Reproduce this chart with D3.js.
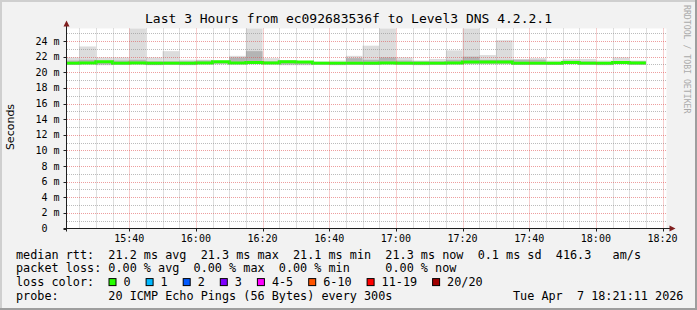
<!DOCTYPE html>
<html>
<head>
<meta charset="utf-8">
<title>Last 3 Hours from ec092683536f to Level3 DNS 4.2.2.1</title>
<script src="https://cdnjs.cloudflare.com/ajax/libs/d3/7.8.5/d3.min.js"></script>
<style>
body{margin:0;padding:0;background:#f2f2f2;overflow:hidden;}
svg{display:block;}
text{font-family:"DejaVu Sans Mono",monospace;fill:#000;}
.legend{font-size:11.8px;white-space:pre;}
.axis-label{font-size:10px;white-space:pre;}
</style>
</head>
<body>
<div id="chart"></div>
<script>
// time window of the graph (last 3 hours)
var startTime = "2026-04-07 15:21:11", endTime = "2026-04-07 18:21:11";
var stepMin = 5;

// one smoke bar per 5 minute step, label = start of step
var barTimes = ["15:20","15:25","15:30","15:35","15:40","15:45","15:50","15:55",
    "16:00","16:05","16:10","16:15","16:20","16:25","16:30","16:35","16:40","16:45",
    "16:50","16:55","17:00","17:05","17:10","17:15","17:20","17:25","17:30","17:35",
    "17:40","17:45","17:50","17:55","18:00","18:05","18:10"];
// median rtt (ms)
var median = [21.15,21.2,21.35,21.15,21.2,21.15,21.15,21.15,21.2,21.35,21.2,21.25,
    21.2,21.35,21.3,21.15,21.15,21.15,21.15,21.2,21.15,21.15,21.15,21.2,21.3,21.3,
    21.3,21.15,21.15,21.15,21.25,21.15,21.15,21.25,21.2];
// outer smoke (min / max ping, ms)
var smokeMax = [21.9,23.3,21.9,21.9,25.7,21.9,22.7,21.6,21.6,21.5,22.1,25.7,
    21.8,21.5,21.4,21.4,21.5,22.1,23.4,25.7,21.9,21.5,21.7,22.8,25.7,22.2,
    24.1,21.7,21.8,21.5,21.7,21.7,21.5,21.9,21.5];
var smokeMin = [20.95,21.0,20.9,21.0,21.0,20.9,21.0,20.9,21.0,21.0,21.0,21.0,
    21.0,20.9,20.9,21.0,20.9,21.0,20.95,21.0,21.0,20.9,21.0,21.0,21.0,21.0,
    21.0,21.0,21.0,20.95,21.0,21.0,20.9,21.0,20.95];
// inner smoke (middle pings, ms)
var innerHi = [21.5,21.6,21.45,21.5,21.6,21.4,21.4,21.4,21.5,21.4,21.9,22.7,
    21.4,21.5,21.3,21.3,21.3,21.8,21.6,21.9,21.5,21.4,21.4,21.6,22.0,21.6,
    21.6,21.6,21.6,21.3,21.5,21.4,21.3,21.4,21.4];
var innerLo = [21.05,21.1,21.0,21.1,21.1,20.95,21.1,21.0,21.1,21.1,21.1,21.1,
    21.1,21.0,21.0,21.1,21.0,21.1,21.0,21.1,21.1,21.0,21.1,21.1,21.1,21.1,
    21.1,21.0,21.1,21.0,21.1,21.1,21.0,21.1,21.0];

var yTicks = [0,2,4,6,8,10,12,14,16,18,20,22,24];
var yTickLabels = ["0  ","2 m","4 m","6 m","8 m","10 m","12 m","14 m","16 m","18 m","20 m","22 m","24 m"];
var xTickLabels = ["15:40","16:00","16:20","16:40","17:00","17:20","17:40","18:00","18:20"];

var lossLabels = ["0","1","2","3","4-5","6-10","11-19","20/20"];
var lossColors = ["#26ff00","#00b8ff","#0059ff","#7e00ff","#ff00ff","#ff5500","#ff0000","#a10000"];

var legendLines = [
    "median rtt:  21.2 ms avg  21.3 ms max  21.1 ms min  21.3 ms now  0.1 ms sd  416.3   am/s",
    "packet loss: 0.00 % avg  0.00 % max  0.00 % min     0.00 % now"
];
var probeText = "probe:       20 ICMP Echo Pings (56 Bytes) every 300s";
var dateText = "Tue Apr  7 18:21:11 2026";
var title = "Last 3 Hours from ec092683536f to Level3 DNS 4.2.2.1";

(function(){
var W = 697, H = 310;
var left = 66.5, right = 666.5, top = 28.5, bottom = 228.5;
var parseFull = d3.timeParse("%Y-%m-%d %H:%M:%S");
var parseHM = function(s){ return d3.timeParse("%Y-%m-%d %H:%M")("2026-04-07 " + s); };
var t0 = parseFull(startTime), t1 = parseFull(endTime);

var x = d3.scaleTime().domain([t0, t1]).range([left, right]);
var y = d3.scaleLinear().domain([0, 25.6]).range([bottom, top]);

var bars = barTimes.map(function(s, i){
    var a = parseHM(s);
    return {start: a, end: d3.timeMinute.offset(a, stepMin), med: median[i],
        max: smokeMax[i], min: smokeMin[i], ih: innerHi[i], il: innerLo[i]};
});

var svg = d3.select("#chart").append("svg").attr("width", W).attr("height", H);

// background and 3d frame
svg.append("rect").attr("width", W).attr("height", H).attr("fill", "#f2f2f2");
svg.append("rect").attr("x", 0).attr("y", 0).attr("width", W).attr("height", 2).attr("fill", "#cfcfcf");
svg.append("rect").attr("x", 0).attr("y", 0).attr("width", 2).attr("height", H).attr("fill", "#cfcfcf");
svg.append("rect").attr("x", 0).attr("y", H-2).attr("width", W).attr("height", 2).attr("fill", "#9e9e9e");
svg.append("rect").attr("x", W-2).attr("y", 0).attr("width", 2).attr("height", H).attr("fill", "#9e9e9e");

// canvas
svg.append("rect").attr("x", left).attr("y", top).attr("width", right-left).attr("height", bottom-top).attr("fill", "#fff");

svg.append("clipPath").attr("id", "plot")
    .append("rect").attr("x", left).attr("y", top).attr("width", right-left).attr("height", bottom-top);
var plot = svg.append("g").attr("clip-path", "url(#plot)");

// smoke
plot.selectAll("rect.outer").data(bars).enter().append("rect")
    .attr("class", "outer")
    .attr("x", function(d){ return x(d.start); })
    .attr("width", function(d){ return x(d.end) - x(d.start); })
    .attr("y", function(d){ return y(d.max); })
    .attr("height", function(d){ return y(d.min) - y(d.max); })
    .attr("fill", "#dcdcdc");
plot.selectAll("rect.inner").data(bars).enter().append("rect")
    .attr("class", "inner")
    .attr("x", function(d){ return x(d.start); })
    .attr("width", function(d){ return x(d.end) - x(d.start); })
    .attr("y", function(d){ return y(d.ih); })
    .attr("height", function(d){ return y(d.il) - y(d.ih); })
    .attr("fill", "#b4b4b4");

// grid, drawn over the smoke like rrdtool does
var grid = svg.append("g").attr("stroke-dasharray", "1,1").attr("stroke-width", 1);
var minorY = d3.range(1, 26).filter(function(v){ return yTicks.indexOf(v) < 0; });
grid.selectAll("line.ymin").data(minorY).enter().append("line")
    .attr("x1", left + 0.5).attr("x2", right)
    .attr("y1", function(d){ return Math.round(y(d)) + 0.5; })
    .attr("y2", function(d){ return Math.round(y(d)) + 0.5; })
    .attr("stroke", "rgba(143,143,143,0.6)");
var xMajor = xTickLabels.map(parseHM);
var xMinor = x.ticks(d3.timeMinute.every(5)).filter(function(t){
    return !xMajor.some(function(m){ return +m == +t; });
});
grid.selectAll("line.xmin").data(xMinor).enter().append("line")
    .attr("y1", top).attr("y2", bottom)
    .attr("x1", function(d){ return Math.round(x(d)) + 0.5; })
    .attr("x2", function(d){ return Math.round(x(d)) + 0.5; })
    .attr("stroke", "rgba(143,143,143,0.6)");
grid.selectAll("line.ymaj").data(yTicks.slice(1)).enter().append("line")
    .attr("x1", left + 0.5).attr("x2", right)
    .attr("y1", function(d){ return Math.round(y(d)) + 0.5; })
    .attr("y2", function(d){ return Math.round(y(d)) + 0.5; })
    .attr("stroke", "rgba(222,79,79,0.55)");
grid.selectAll("line.xmaj").data(xMajor).enter().append("line")
    .attr("y1", top).attr("y2", bottom)
    .attr("x1", function(d){ return Math.round(x(d)) + 0.5; })
    .attr("x2", function(d){ return Math.round(x(d)) + 0.5; })
    .attr("stroke", "rgba(222,79,79,0.55)");

// median line, loss colour 0
var pts = [];
bars.forEach(function(d){ pts.push([d.start, d.med]); pts.push([d.end, d.med]); });
plot.append("path")
    .attr("d", d3.line().x(function(p){ return x(p[0]); }).y(function(p){ return y(p[1]); })(pts))
    .attr("fill", "none")
    .attr("stroke", lossColors[0])
    .attr("stroke-width", 3);

// axes
var ax = svg.append("g").attr("stroke", "#1f1f1f").attr("stroke-width", 1);
ax.append("line").attr("x1", left).attr("x2", left).attr("y1", bottom + 3).attr("y2", top - 4);
ax.append("line").attr("x1", left - 3).attr("x2", right + 5).attr("y1", bottom).attr("y2", bottom);
ax.selectAll("line.yt").data(yTicks).enter().append("line")
    .attr("x1", left - 3).attr("x2", left)
    .attr("y1", function(d){ return Math.round(y(d)) + 0.5; })
    .attr("y2", function(d){ return Math.round(y(d)) + 0.5; });
ax.selectAll("line.xt").data(xMajor).enter().append("line")
    .attr("y1", bottom).attr("y2", bottom + 3)
    .attr("x1", function(d){ return Math.round(x(d)) + 0.5; })
    .attr("x2", function(d){ return Math.round(x(d)) + 0.5; });

// arrows
svg.append("path").attr("d", "M" + (left - 3) + "," + (top - 2) + "L" + (left + 3) + "," + (top - 2) + "L" + left + "," + (top - 8) + "Z")
    .attr("fill", "#801f1f");
svg.append("path").attr("d", "M" + (right + 3) + "," + (bottom - 3) + "L" + (right + 3) + "," + (bottom + 3) + "L" + (right + 9) + "," + bottom + "Z")
    .attr("fill", "#801f1f");

// tick labels
svg.selectAll("text.yl").data(yTicks).enter().append("text")
    .attr("class", "axis-label")
    .attr("x", 59.5)
    .attr("y", function(d){ return y(d); })
    .attr("dy", "0.36em")
    .attr("text-anchor", "end")
    .text(function(d, i){ return yTickLabels[i]; });
svg.selectAll("text.xl").data(xMajor).enter().append("text")
    .attr("class", "axis-label")
    .attr("x", function(d){ return x(d); })
    .attr("y", 241.5)
    .attr("text-anchor", "middle")
    .text(function(d, i){ return xTickLabels[i]; });

// title and unit
svg.append("text").attr("x", W/2).attr("y", 23.3).attr("text-anchor", "middle")
    .attr("font-size", "13px").text(title);
svg.append("text").attr("transform", "translate(14,127) rotate(-90)")
    .attr("text-anchor", "middle").attr("font-size", "11px")
    .style("font-family", "'DejaVu Sans',sans-serif").text("Seconds");
svg.append("text").attr("transform", "translate(684,5) rotate(90)")
    .attr("font-size", "8.2px").style("fill", "#aaaaaa").text("RRDTOOL / TOBI OETIKER");

// legend
var lineY = [258.5, 272.4, 286.3, 300.2];
svg.selectAll("text.lg").data(legendLines).enter().append("text")
    .attr("class", "legend").attr("xml:space", "preserve")
    .attr("x", 16).attr("y", function(d, i){ return lineY[i]; })
    .text(function(d){ return d; });
svg.append("text").attr("class", "legend").attr("x", 16).attr("y", lineY[2]).text("loss color:");
var cw = 7.1, bx = 108.5;
lossLabels.forEach(function(l, i){
    svg.append("rect").attr("x", bx + 0.5).attr("y", lineY[2] - 7.7).attr("width", 7).attr("height", 7)
        .attr("fill", lossColors[i]).attr("stroke", "#000").attr("stroke-width", 1);
    svg.append("text").attr("class", "legend").attr("x", bx + 15).attr("y", lineY[2]).text(l);
    bx = bx + 15 + l.length * cw + 15;
});
svg.append("text").attr("class", "legend").attr("xml:space", "preserve")
    .attr("x", 16).attr("y", lineY[3]).text(probeText);
svg.append("text").attr("class", "legend").attr("xml:space", "preserve")
    .attr("x", 16 + 70 * cw).attr("y", lineY[3]).text(dateText);
})();
</script>
</body>
</html>
